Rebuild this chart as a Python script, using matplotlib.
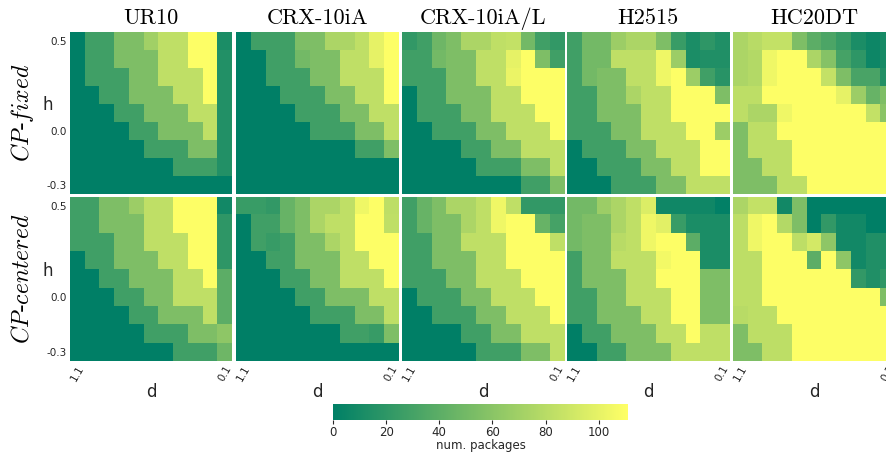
import numpy as np
import matplotlib
matplotlib.use('Agg')
import matplotlib.pyplot as plt

plt.rcParams['mathtext.fontset'] = 'cm'

robots = ['UR10', 'CRX-10iA', 'CRX-10iA/L', 'H2515', 'HC20DT']
modes = [r'$CP$-$fixed$', r'$CP$-$centered$']
d_ticks = ['1.1', '0.1']          # d goes 1.1 -> 0.1 (11 columns)
h_ticks = ['0.5', '0.0', '-0.3']  # h goes 0.5 -> -0.3 (9 rows)
cbar_ticks = [0, 20, 40, 60, 80, 100]

# num. packages, rows = h (0.5 .. -0.3), cols = d (1.1 .. 0.1)
ur10_fixed = [
    [0, 28, 28, 55, 55, 70, 83, 83, 110, 110, 12],
    [0, 28, 28, 55, 55, 55, 83, 83, 110, 110, 15],
    [0, 28, 28, 28, 55, 55, 83, 83, 83, 110, 15],
    [0, 0, 28, 28, 55, 55, 55, 83, 83, 110, 15],
    [0, 0, 0, 28, 28, 55, 55, 55, 83, 83, 15],
    [0, 0, 0, 0, 28, 28, 55, 55, 55, 83, 15],
    [0, 0, 0, 0, 0, 28, 28, 28, 55, 55, 15],
    [0, 0, 0, 0, 0, 0, 0, 28, 28, 28, 15],
    [0, 0, 0, 0, 0, 0, 0, 0, 0, 0, 0],
]
crx_fixed = [
    [0, 28, 28, 28, 55, 55, 75, 75, 83, 100, 110],
    [0, 0, 28, 28, 50, 55, 55, 83, 83, 100, 110],
    [0, 0, 28, 28, 28, 55, 55, 83, 83, 83, 110],
    [0, 0, 0, 28, 28, 28, 55, 55, 83, 83, 110],
    [0, 0, 0, 0, 28, 28, 28, 55, 55, 83, 83],
    [0, 0, 0, 0, 0, 28, 28, 28, 55, 55, 83],
    [0, 0, 0, 0, 0, 0, 0, 0, 28, 28, 55],
    [0, 0, 0, 0, 0, 0, 0, 0, 0, 0, 0],
    [0, 0, 0, 0, 0, 0, 0, 0, 0, 0, 0],
]
crxl_fixed = [
    [22, 28, 48, 55, 75, 75, 83, 85, 50, 28, 22],
    [28, 28, 50, 55, 55, 83, 83, 100, 110, 55, 28],
    [28, 28, 28, 55, 55, 83, 83, 102, 110, 110, 110],
    [0, 28, 28, 55, 55, 55, 83, 83, 110, 110, 110],
    [0, 28, 28, 28, 55, 55, 83, 83, 83, 110, 110],
    [0, 0, 28, 28, 28, 55, 55, 83, 83, 83, 110],
    [0, 0, 0, 0, 28, 28, 55, 55, 83, 83, 83],
    [0, 0, 0, 0, 0, 28, 28, 28, 55, 55, 83],
    [0, 0, 0, 0, 0, 0, 0, 0, 28, 28, 55],
]
h2515_fixed = [
    [28, 50, 50, 68, 75, 75, 55, 25, 12, 20, 14],
    [28, 50, 50, 83, 83, 83, 104, 68, 12, 14, 14],
    [28, 50, 55, 55, 83, 83, 104, 110, 68, 28, 18],
    [28, 28, 55, 55, 75, 83, 83, 110, 110, 110, 55],
    [28, 28, 55, 55, 55, 83, 83, 110, 110, 110, 110],
    [28, 28, 28, 55, 55, 83, 83, 83, 110, 110, 68],
    [0, 28, 28, 28, 55, 55, 83, 83, 83, 110, 110],
    [0, 0, 28, 28, 28, 55, 55, 83, 83, 110, 110],
    [0, 0, 0, 28, 28, 28, 55, 55, 83, 83, 83],
]
hc20_fixed = [
    [75, 80, 85, 85, 55, 40, 33, 24, 12, 6, 10],
    [75, 78, 104, 110, 110, 75, 58, 30, 20, 6, 10],
    [75, 78, 104, 110, 110, 110, 85, 55, 32, 32, 15],
    [82, 82, 110, 110, 110, 110, 110, 100, 68, 45, 55],
    [82, 75, 75, 104, 110, 110, 110, 110, 110, 85, 60],
    [55, 82, 82, 110, 110, 110, 110, 110, 110, 110, 110],
    [55, 82, 82, 82, 110, 110, 110, 110, 110, 110, 110],
    [55, 55, 82, 82, 110, 110, 110, 110, 110, 110, 110],
    [55, 55, 55, 82, 82, 110, 110, 110, 110, 110, 110],
]

ur10_centered = [
    [28, 28, 55, 55, 68, 83, 83, 110, 110, 110, 8],
    [28, 28, 55, 55, 55, 83, 83, 110, 110, 110, 20],
    [28, 28, 28, 55, 55, 83, 83, 83, 110, 110, 20],
    [0, 28, 28, 55, 55, 55, 83, 83, 110, 110, 20],
    [0, 0, 28, 28, 55, 55, 55, 83, 83, 110, 40],
    [0, 0, 0, 28, 28, 55, 55, 83, 83, 83, 40],
    [0, 0, 0, 0, 28, 28, 55, 55, 55, 83, 40],
    [0, 0, 0, 0, 0, 28, 28, 28, 55, 55, 62],
    [0, 0, 0, 0, 0, 0, 0, 28, 28, 28, 48],
]
crx_centered = [
    [25, 25, 22, 45, 55, 75, 75, 83, 104, 110, 82],
    [0, 28, 28, 45, 55, 75, 83, 83, 110, 110, 83],
    [0, 28, 24, 28, 55, 55, 75, 83, 110, 110, 110],
    [0, 0, 28, 28, 55, 55, 55, 83, 83, 110, 110],
    [0, 0, 0, 28, 28, 55, 55, 83, 83, 83, 110],
    [0, 0, 0, 0, 28, 28, 55, 55, 55, 83, 83],
    [0, 0, 0, 0, 0, 28, 28, 28, 55, 55, 83],
    [0, 0, 0, 0, 0, 0, 0, 28, 28, 24, 55],
    [0, 0, 0, 0, 0, 0, 0, 0, 0, 0, 0],
]
crxl_centered = [
    [28, 45, 55, 75, 75, 83, 104, 83, 22, 22, 22],
    [28, 45, 55, 55, 75, 83, 104, 110, 110, 45, 30],
    [28, 28, 55, 55, 83, 83, 83, 110, 110, 110, 83],
    [28, 28, 55, 55, 55, 83, 83, 110, 110, 110, 110],
    [28, 28, 28, 55, 55, 83, 83, 83, 110, 110, 110],
    [0, 28, 28, 28, 55, 55, 83, 83, 83, 110, 110],
    [0, 0, 28, 28, 28, 55, 55, 83, 83, 83, 110],
    [0, 0, 0, 0, 28, 28, 55, 55, 83, 83, 83],
    [0, 0, 0, 0, 0, 28, 28, 28, 55, 55, 83],
]
h2515_centered = [
    [50, 50, 68, 75, 83, 95, 7, 7, 7, 7, 1],
    [50, 55, 55, 75, 83, 104, 98, 25, 12, 12, 12],
    [50, 55, 55, 80, 83, 104, 110, 110, 40, 12, 12],
    [28, 55, 55, 83, 83, 83, 106, 110, 110, 12, 12],
    [28, 55, 55, 55, 83, 83, 110, 110, 110, 55, 55],
    [28, 28, 55, 55, 83, 83, 83, 110, 110, 55, 55],
    [28, 28, 55, 55, 55, 83, 83, 110, 110, 55, 55],
    [0, 28, 28, 55, 55, 55, 83, 83, 110, 83, 83],
    [0, 0, 28, 28, 55, 55, 55, 83, 83, 83, 83],
]
hc20_centered = [
    [75, 85, 85, 8, 55, 0, 0, 0, 0, 0, 0],
    [82, 104, 110, 78, 55, 0, 22, 8, 8, 0, 0],
    [82, 104, 110, 110, 82, 92, 62, 8, 8, 14, 14],
    [82, 82, 110, 110, 110, 40, 110, 62, 8, 14, 14],
    [82, 82, 110, 110, 110, 110, 110, 110, 22, 14, 20],
    [82, 82, 110, 110, 110, 110, 110, 110, 110, 110, 55],
    [80, 82, 82, 110, 110, 110, 110, 110, 110, 110, 110],
    [55, 82, 82, 82, 110, 110, 110, 110, 110, 110, 110],
    [55, 55, 82, 82, 110, 110, 110, 110, 110, 110, 110],
]

grids = [
    [ur10_fixed, crx_fixed, crxl_fixed, h2515_fixed, hc20_fixed],
    [ur10_centered, crx_centered, crxl_centered, h2515_centered, hc20_centered],
]

W, H = 886, 457
fig = plt.figure(figsize=(W / 100, H / 100), dpi=100)

# panel layout in pixels (last column runs off the right edge, as in the original)
lefts = [70, 236, 402, 567, 733]
pw = 162
rows = [(32, 194), (197, 361)]
txt = '0.15'

for r in range(2):
    top, bot = rows[r]
    for c in range(5):
        ax = fig.add_axes([lefts[c] / W, 1 - bot / H, pw / W, (bot - top) / H])
        im = ax.imshow(np.array(grids[r][c]), cmap='summer', vmin=0, vmax=111,
                       aspect='auto', interpolation='nearest')
        for s in ax.spines.values():
            s.set_visible(False)
        ax.tick_params(length=0, labelsize=7.5, colors=txt, pad=2)
        if c == 0:
            ax.set_yticks([0, 5, 8])
            ax.set_yticklabels(h_ticks)
            ax.set_ylabel('h', rotation=0, fontsize=12, color=txt, ha='center', va='center')
            ax.yaxis.set_label_coords(-0.136, 0.55)
        else:
            ax.set_yticks([])
        if r == 1:
            ax.set_xticks([0, 10])
            ax.set_xticklabels(d_ticks, rotation=60)
            ax.set_xlabel('d', fontsize=12, color=txt, labelpad=0)
        else:
            ax.set_xticks([])
            ax.set_title(robots[c], family='cmr10', fontsize=16, pad=6)

fig.text(22 / W, 1 - 113 / H, modes[0], rotation=90, family='cmr10', fontsize=17,
         ha='center', va='center')
fig.text(22 / W, 1 - 279 / H, modes[1], rotation=90, family='cmr10', fontsize=17,
         ha='center', va='center')

cax = fig.add_axes([333 / W, 1 - 420 / H, 295 / W, 16 / H])
cb = fig.colorbar(im, cax=cax, orientation='horizontal')
cb.set_ticks(cbar_ticks)
cb.outline.set_visible(False)
cax.tick_params(labelsize=8.5, length=3, width=0.8, colors=txt, pad=1)
cb.set_label('num. packages', fontsize=8.5, color=txt, labelpad=0)

fig.savefig('out.png', dpi=100)
